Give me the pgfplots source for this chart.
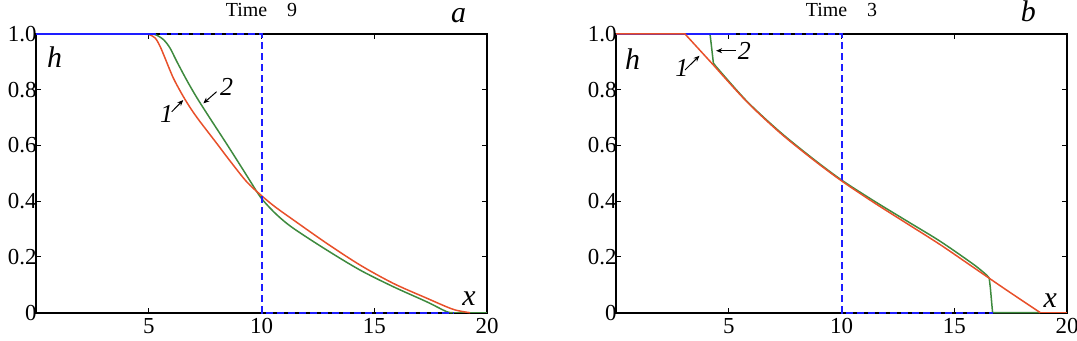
\documentclass[border=0pt]{standalone}
\usepackage{fontspec}
\setmainfont{Liberation Serif}
\usepackage{pgfplots}
\pgfplotsset{compat=1.18}
\usetikzlibrary{arrows.meta}

\definecolor{cred}{RGB}{232,80,42}
\definecolor{cgreen}{RGB}{62,138,62}
\definecolor{cblue}{RGB}{30,30,255}

\pgfplotsset{
  panel/.style={
    scale only axis, width=451bp, height=278.7bp,
    xmin=0, xmax=20, ymin=0, ymax=1, clip=false,
    /pgf/number format/assume math mode=true,
    xtick={0,5,10,15,20},
    xticklabels={,\textrm{5},\textrm{10},\textrm{15},\textrm{20}},
    ytick={0,0.2,0.4,0.6,0.8,1.0},
    yticklabels={\textrm{0},\textrm{0.2},\textrm{0.4},\textrm{0.6},\textrm{0.8},\textrm{1.0}},
    tick align=inside, major tick length=5bp,
    every tick/.style={black, line width=1bp},
    axis line style={line width=1.6bp},
    tick label style={font=\fontsize{23}{25}\selectfont},
    yticklabel style={xshift=4bp},
    xticklabel style={yshift=-2bp},
  },
}
\tikzset{
  cr/.style={cred, line width=1.5bp, smooth, tension=0.5},
  cg/.style={cgreen, line width=1.5bp, smooth, tension=0.5},
  initb/.style={color=cblue, line width=2bp, dash pattern=on 7bp off 4bp},
  lab/.style={font=\fontsize{30}{32}\selectfont\itshape, anchor=base west, inner sep=0},
  num/.style={font=\fontsize{26}{28}\selectfont\itshape, anchor=base west, inner sep=0},
  arr/.style={-{Stealth[length=6bp,width=5bp]}, line width=1bp},
}

\begin{document}
\begin{tikzpicture}
% panel a
\begin{axis}[panel]
  \addplot[cg] coordinates {
    (4.9,1)(5.28,0.998)(5.65,0.98)(5.94,0.95)(6.24,0.902)(6.68,0.835)(7.13,0.772)
    (7.72,0.697)(8.46,0.605)(9.19,0.512)(9.5,0.472)(10.0,0.41)(10.67,0.352)
    (11.41,0.303)(12.89,0.225)(14.37,0.153)(15.85,0.093)(17.33,0.039)(18.2,0.004)(18.5,0)};
  \addplot[cgreen, line width=1.5bp] coordinates {(18.5,0)(20,0)};
  \addplot[cr] coordinates {
    (4.7,1)(4.98,0.999)(5.28,0.986)(5.5,0.956)(5.72,0.914)(6.09,0.842)(6.53,0.776)
    (6.9,0.728)(7.27,0.686)(8.01,0.608)(8.6,0.545)(9.34,0.47)(10.0,0.42)(10.6,0.38)
    (11.41,0.333)(12.89,0.249)(14.37,0.171)(15.85,0.105)(17.33,0.052)(18.5,0.012)(19.25,0)};
  \addplot[cblue, line width=1.6bp] coordinates {(0,1)(5,1)};
  \addplot[initb] coordinates {(5,1)(10,1)(10,0)(18.5,0)};
  \node[font=\fontsize{20}{22}\selectfont, anchor=base] at (axis cs:10,1) [yshift=17bp] {Time\quad 9};
  \node[lab] at (axis cs:18.4,1) [yshift=11bp] {a};
  \node[lab] at (axis cs:0.49,0.878) {h};
  \node[lab] at (axis cs:18.9,0.027) {x};
  \node[num] at (axis cs:5.5,0.684) {1};
  \node[num] at (axis cs:8.16,0.781) {2};
  \draw[arr] (axis cs:6.02,0.721) -- (axis cs:6.53,0.763);
  \draw[arr] (axis cs:8.01,0.793) -- (axis cs:7.42,0.751);
\end{axis}
% panel b
\begin{axis}[panel, at={(580bp,0)}]
  \addplot[cgreen, line width=1.5bp] coordinates {
    (4.17,1)(4.32,0.895)(4.45,0.882)};
  \addplot[cg] coordinates {
    (4.45,0.882)(5.8,0.759)(7.28,0.648)(8.76,0.551)(10.02,0.475)
    (11.42,0.402)(12.9,0.329)(14.38,0.256)(15.86,0.173)(16.45,0.134)};
  \addplot[cgreen, line width=1.5bp] coordinates {
    (16.45,0.134)(16.55,0.124)(16.6,0.09)(16.7,0)(18.8,0)};
  \addplot[cblue, line width=1.6bp] coordinates {(0,1)(5,1)};
  \addplot[initb] coordinates {(5,1)(10,1)(10,0)(16.7,0)};
  \addplot[cred, line width=1.5bp] coordinates {(0,1)(3.06,1)(4.35,0.886)};
  \addplot[cr] coordinates {
    (4.35,0.886)(5.8,0.757)(7.28,0.645)(8.76,0.548)(10.02,0.472)
    (11.42,0.396)(12.9,0.320)(14.38,0.244)(15.86,0.162)(17.34,0.08)(18.82,0)};
  \addplot[cred, line width=1.5bp] coordinates {(18.82,0)(20,0)};
  \node[font=\fontsize{20}{22}\selectfont, anchor=base] at (axis cs:10,1) [yshift=17bp] {Time\quad 3};
  \node[lab] at (axis cs:17.95,1) [yshift=12bp] {b};
  \node[lab] at (axis cs:0.4,0.871) {h};
  \node[lab] at (axis cs:18.95,0.017) {x};
  \node[num] at (axis cs:2.62,0.846) {1};
  \node[num] at (axis cs:5.4,0.907) {2};
  \draw[arr] (axis cs:3.06,0.871) -- (axis cs:3.70,0.922);
  \draw[arr] (axis cs:5.3,0.94) -- (axis cs:4.44,0.94);
\end{axis}
\pgfresetboundingbox
\path (-36bp,-28.3bp) rectangle (1041bp,312.7bp);
\end{tikzpicture}
\end{document}
